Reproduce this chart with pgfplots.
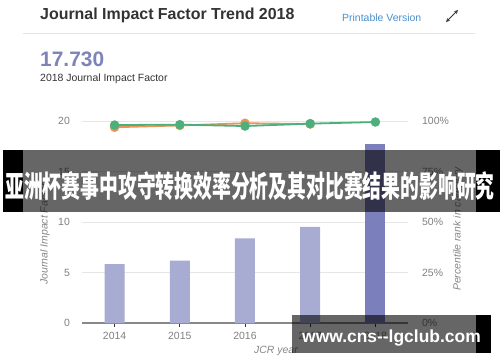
\documentclass[border=0pt]{standalone}
\usepackage{pgfplots}
\pgfplotsset{compat=1.18}
\usepackage{fontspec}
\setmainfont{Liberation Sans}
\newfontfamily\cjk{Noto Sans CJK SC}
\definecolor{titlec}{HTML}{333333}
\definecolor{linkc}{HTML}{4A90CF}
\definecolor{ifc}{HTML}{7E84B7}
\definecolor{sepc}{HTML}{E3E3E3}
\definecolor{barlight}{HTML}{A8ACD2}
\definecolor{bardark}{HTML}{7B7FBB}
\definecolor{greenc}{HTML}{4DAF7C}
\definecolor{orangec}{HTML}{E8955A}
\definecolor{tickc}{HTML}{808080}
\definecolor{gridc}{HTML}{E6E6E6}
\definecolor{axisc}{HTML}{888888}
\begin{document}
\begin{tikzpicture}
\path[use as bounding box, fill=white] (0,0) rectangle (500bp,-362bp);
% header
\node[anchor=base west, inner sep=0, font=\fontsize{16}{16}\selectfont\bfseries, text=titlec] at (40bp,-19bp) {Journal Impact Factor Trend 2018};
\node[anchor=base west, inner sep=0, font=\fontsize{10.5}{10.5}\selectfont, text=linkc] at (342bp,-21bp) {Printable Version};
\draw[titlec, line width=0.8pt, <->, >=stealth] (446bp,-22bp) -- (458bp,-10bp);
\draw[sepc, line width=0.8pt] (23bp,-33bp) -- (475bp,-33bp);
\node[anchor=base west, inner sep=0, font=\fontsize{21}{21}\selectfont\bfseries, text=ifc] at (40bp,-66.5bp) {17.730};
\node[anchor=base west, inner sep=0, font=\fontsize{10.5}{10.5}\selectfont, text=titlec] at (40bp,-81.5bp) {2018 Journal Impact Factor};
% bar axis
\begin{axis}[
  at={(82bp,-323bp)}, anchor=south west,
  scale only axis, width=326bp, height=202bp,
  xmin=2013.5, xmax=2018.5, ymin=0, ymax=20,
  xtick={2014,2015,2016,2017,2018},
  xticklabels={2014,2015,2016,2017,2018},
  ytick={0,5,10,15,20},
  axis x line*=bottom, axis y line*=left,
  x axis line style={draw=axisc, line width=1.2pt, -},
  y axis line style={draw=none},
  tick align=outside, major tick length=4bp,
  x tick style={draw=titlec, line width=0.8pt},
  y tick style={draw=none},
  ymajorgrids, grid style={gridc, line width=0.8pt},
  /pgf/number format/assume math mode=true,
  ticklabel style={font=\fontsize{10.5}{10.5}\selectfont, text=tickc},
  yticklabel style={inner sep=0pt, anchor=east, xshift=-8bp},
  xticklabel style={inner sep=0pt, anchor=north, yshift=-5bp},
]
\addplot[ybar, bar width=20bp, bar shift=0pt, fill=barlight, draw=none] coordinates {(2014,5.84) (2015,6.17) (2016,8.38) (2017,9.53)};
\addplot[ybar, bar width=20bp, bar shift=0pt, fill=bardark, draw=none] coordinates {(2018,17.73)};
\end{axis}
% percentile axis
\begin{axis}[
  at={(82bp,-323bp)}, anchor=south west,
  scale only axis, width=326bp, height=202bp,
  xmin=2013.5, xmax=2018.5, ymin=0, ymax=100,
  axis x line=none,
  axis y line*=right,
  y axis line style={draw=none},
  ytick={0,25,50,75,100},
  tick align=outside, major tick length=4bp,
  y tick style={draw=none},
  clip=false,
  /pgf/number format/assume math mode=true,
  yticklabel={\pgfmathprintnumber{\tick}\%},
  yticklabel style={font=\fontsize{10.5}{10.5}\selectfont, text=tickc, inner sep=0pt, anchor=west, xshift=10bp},
]
\addplot[orangec, line width=1.8pt, mark=*, mark size=3.8bp, mark options={fill=orangec, draw=orangec}] coordinates {(2014,96.9) (2015,97.8) (2016,98.9) (2017,98.5)};
\addplot[greenc, line width=1.8pt, mark=*, mark size=3.8bp, mark options={fill=greenc, draw=greenc}] coordinates {(2014,98.0) (2015,98.2) (2016,97.5) (2017,98.7) (2018,99.5)};
\end{axis}
% axis titles
\node[rotate=90, font=\fontsize{10.5}{10.5}\selectfont\itshape, text=axisc, inner sep=0] at (45bp,-234bp) {Journal Impact Factor};
\node[rotate=90, font=\fontsize{10.5}{10.5}\selectfont\itshape, text=axisc, inner sep=0] at (458bp,-229bp) {Percentile rank in category};
\node[anchor=base west, font=\fontsize{10.5}{10.5}\selectfont\itshape, text=axisc, inner sep=0] at (254bp,-353bp) {JCR year};
% banner overlay
\fill[black, opacity=0.6] (23bp,-150bp) rectangle (476bp,-211.7bp);
\fill[black] (3bp,-150bp) rectangle (23bp,-211.7bp);
\fill[black] (476bp,-150bp) rectangle (500bp,-211.7bp);
\node[inner sep=0, text=white, xscale=0.63, font=\fontsize{30}{30}\selectfont\cjk\bfseries] at (250bp,-186bp) {亚洲杯赛事中攻守转换效率分析及其对比赛结果的影响研究};
% watermark overlay
\fill[black, opacity=0.6] (292bp,-315bp) rectangle (476bp,-353bp);
\fill[black] (476bp,-315bp) rectangle (491bp,-353bp);
\node[anchor=base west, inner sep=0, text=white, font=\fontsize{17.5}{17.5}\selectfont\bfseries] at (302bp,-342.3bp) {www.cns-{}-lgclub.com};
\end{tikzpicture}
\end{document}
